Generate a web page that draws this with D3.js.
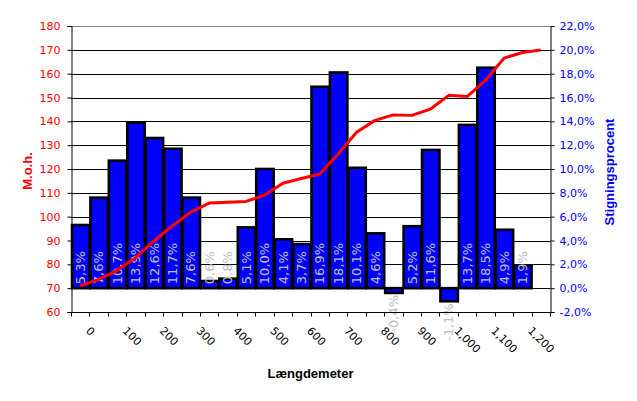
<!DOCTYPE html>
<html>
<head>
<meta charset="utf-8">
<script src="https://cdn.jsdelivr.net/npm/d3@7"></script>
<style>
  html, body { margin: 0; padding: 0; background: #ffffff; }
  svg { display: block; }
</style>
</head>
<body>
<svg id="chart" width="637" height="401"></svg>
<script>
// ---- data ----
const categories = [0, 50, 100, 150, 200, 250, 300, 350, 400, 450, 500, 550, 600,
                    650, 700, 750, 800, 850, 900, 950, 1000, 1050, 1100, 1150, 1200, 1250];
const tickLabels = ["0", "", "100", "", "200", "", "300", "", "400", "", "500", "", "600",
                    "", "700", "", "800", "", "900", "", "1,000", "", "1,100", "", "1,200", ""];
// Stigningsprocent (bars, %)
const slopes = [5.3, 7.6, 10.7, 13.9, 12.6, 11.7, 7.6, 0.6, 0.8, 5.1, 10.0, 4.1, 3.7,
                16.9, 18.1, 10.1, 4.6, -0.4, 5.2, 11.6, -1.1, 13.7, 18.5, 4.9, 1.9, null];
// M.o.h. (line)
const elevation = [71.0, 73.7, 77.5, 82.8, 89.8, 96.1, 101.9, 105.7, 106.0, 106.4, 109.0, 114.0, 116.0,
                   117.9, 126.3, 135.4, 140.4, 142.7, 142.5, 145.1, 150.9, 150.4, 157.2, 166.5, 168.9, 169.9];
const leftTicks = [60, 70, 80, 90, 100, 110, 120, 130, 140, 150, 160, 170, 180];
const rightTicks = [-2, 0, 2, 4, 6, 8, 10, 12, 14, 16, 18, 20, 22];

// ---- layout ----
const svg = d3.select("#chart");
const L = 71, R = 550, T = 26, B = 312;
const locale = d3.formatLocale({decimal: ",", thousands: ".", grouping: [3], currency: ["", ""], minus: "-"});
const pct = locale.format(".1f");

const x = d3.scaleBand().domain(categories).range([L, R]).padding(0);
const yL = d3.scaleLinear().domain([60, 180]).range([B, T]);
const yR = d3.scaleLinear().domain([-2, 22]).range([B, T]);

// gridlines
svg.append("g").selectAll("line")
  .data(leftTicks.filter(v => v > 60))
  .join("line")
  .attr("x1", L).attr("x2", R)
  .attr("y1", d => Math.round(yL(d)) + 0.5).attr("y2", d => Math.round(yL(d)) + 0.5)
  .attr("stroke", d => d === 180 ? "#808080" : "#000")
  .attr("stroke-width", 1);

// bars
const barData = categories.map((c, i) => ({c, v: slopes[i]})).filter(d => d.v !== null);
svg.append("g").selectAll("rect")
  .data(barData)
  .join("rect")
  .attr("x", d => x(d.c) + 1)
  .attr("width", x.bandwidth() - 1)
  .attr("y", d => Math.min(yR(d.v), yR(0)))
  .attr("height", d => Math.abs(yR(d.v) - yR(0)))
  .attr("fill", "#0000ff")
  .attr("stroke", "#000")
  .attr("stroke-width", 2.6);

// bar labels
svg.append("g").selectAll("text")
  .data(barData)
  .join("text")
  .attr("transform", d => {
    const cx = x(d.c) + x.bandwidth() / 2;
    const yy = d.v >= 0 ? yR(0) - 4 : yR(d.v) + 2;
    return `translate(${cx},${yy}) rotate(-90)`;
  })
  .attr("text-anchor", d => d.v >= 0 ? "start" : "end")
  .attr("dy", "0.36em")
  .attr("font-family", "DejaVu Sans, Verdana, sans-serif")
  .attr("font-size", 13)
  .attr("fill", "#c0c0c0")
  .text(d => pct(d.v) + "%");

// line
const line = d3.line()
  .x((d, i) => x(categories[i]) + x.bandwidth() / 2)
  .y(d => yL(d));
svg.append("path")
  .datum(elevation)
  .attr("d", line)
  .attr("fill", "none")
  .attr("stroke", "#ff0000")
  .attr("stroke-width", 3)
  .attr("stroke-linejoin", "round");

// left axis
const axL = d3.axisLeft(yL).tickValues(leftTicks).tickSize(4).tickPadding(7).tickFormat(d3.format("d"));
const gL = svg.append("g").attr("transform", `translate(${L + 0.5},0)`).call(axL);
gL.select(".domain").attr("stroke", "#000");
gL.selectAll(".tick line").attr("stroke", "#000");
gL.selectAll("text").attr("fill", "#ff0000").attr("font-family", "DejaVu Sans, Verdana, sans-serif").attr("font-size", 11);

// right axis
const axR = d3.axisRight(yR).tickValues(rightTicks).tickSize(4).tickPadding(5).tickFormat(d => pct(d) + "%");
const gR = svg.append("g").attr("transform", `translate(${R + 0.5},0)`).call(axR);
gR.select(".domain").attr("stroke", "#000");
gR.selectAll(".tick line").attr("stroke", "#000");
gR.selectAll("text").attr("fill", "#0000ff").attr("font-family", "DejaVu Sans, Verdana, sans-serif").attr("font-size", 11);

// bottom axis
const gB = svg.append("g").attr("transform", `translate(0,${B + 0.5})`);
gB.append("line").attr("x1", L).attr("x2", R + 1).attr("stroke", "#000");
const boundaries = categories.map(c => x(c)).concat([R]);
gB.selectAll("line.tk").data(boundaries).join("line").attr("class", "tk")
  .attr("x1", d => Math.round(d) + 0.5).attr("x2", d => Math.round(d) + 0.5)
  .attr("y1", 0).attr("y2", 4).attr("stroke", "#000");
gB.selectAll("text").data(categories.map((c, i) => ({c, t: tickLabels[i]})).filter(d => d.t !== ""))
  .join("text")
  .attr("transform", d => `translate(${x(d.c) + x.bandwidth() / 2 + 5},${19}) rotate(45)`)
  .attr("text-anchor", "start")
  .attr("font-family", "DejaVu Sans, Verdana, sans-serif")
  .attr("font-size", 11)
  .attr("fill", "#000")
  .text(d => d.t);

// titles
svg.append("text")
  .attr("transform", "translate(27,171) rotate(-90)")
  .attr("dy", "0.35em")
  .attr("text-anchor", "middle")
  .attr("font-family", "Liberation Sans, Arial, sans-serif")
  .attr("font-weight", "bold").attr("font-size", 13)
  .attr("fill", "#ff0000")
  .text("M.o.h.");
svg.append("text")
  .attr("transform", "translate(609,172) rotate(-90)")
  .attr("dy", "0.35em")
  .attr("text-anchor", "middle")
  .attr("font-family", "Liberation Sans, Arial, sans-serif")
  .attr("font-weight", "bold").attr("font-size", 13)
  .attr("fill", "#0000ff")
  .text("Stigningsprocent");
svg.append("text")
  .attr("x", (L + R) / 2).attr("y", 378)
  .attr("text-anchor", "middle")
  .attr("font-family", "Liberation Sans, Arial, sans-serif")
  .attr("font-weight", "bold").attr("font-size", 13)
  .attr("fill", "#000")
  .text("Længdemeter");
</script>
</body>
</html>
